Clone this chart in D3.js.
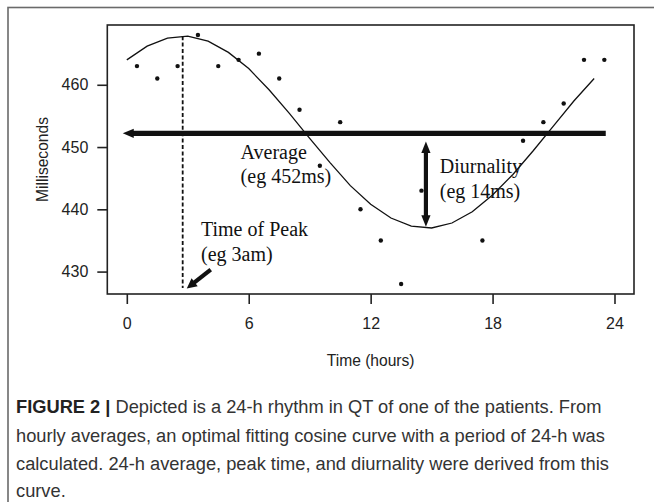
<!DOCTYPE html>
<html><head><meta charset="utf-8">
<script src="https://cdn.jsdelivr.net/npm/d3@7"></script>
<style>body{margin:0;background:#fff}svg{display:block}</style>
</head><body>
<script>
// ---- data ----
const pointHours = [0.5,1.5,2.5,3.5,4.5,5.5,6.5,7.5,8.5,9.5,10.5,11.5,12.5,13.5,14.5,17.5,19.5,20.5,21.5,22.5,23.5];
const pointQT    = [463,461,463,468,463,464,465,461,456,447,454,440,435,428,443,435,451,454,457,464,464];
const curveHours = [0,1,2,3,4,5,6,7,8,9,10,11,12,13,14,15,16,17,18,19,20,21,22,23];
const curveQT    = [464.0,466.2,467.5,467.8,467.0,465.2,462.6,459.2,455.4,451.4,447.5,443.8,440.8,438.6,437.3,437.0,437.8,439.6,442.3,445.6,449.4,453.4,457.4,461.0];
const xTicks = [0,6,12,18,24];
const yTicks = [430,440,450,460];
const xTitle = "Time (hours)";
const yTitle = "Milliseconds";
const averageQT = 452.2;
const averageSpan = [23.57, -0.2];      // hours: flat end, arrow tip
const peakHour = 2.75;
const peakSpan = [467.8, 427.36];        // dashed line top / bottom (ms)
const peakArrow = [[4.13, 430.3], [2.95, 427.3]]; // tail, tip
const diurnalHour = 14.72;
const diurnalSpan = [437.2, 450.9];
const labelTexts = [["Average", "(eg 452ms)"], ["Time of Peak", "(eg 3am)"], ["Diurnality", "(eg 14ms)"]];
const labelAnchors = [[5.6, 448.1], [3.65, 435.7], [15.4, 445.8]]; // hour, ms of first baseline
const captionBold = "FIGURE 2 |";
const captionLines = [
  " Depicted is a 24-h rhythm in QT of one of the patients. From",
  "hourly averages, an optimal fitting cosine curve with a period of 24-h was",
  "calculated. 24-h average, peak time, and diurnality were derived from this",
  "curve."
];

// ---- drawing ----
const W = 654, H = 502;
const svg = d3.select("body").append("svg").attr("width", W).attr("height", H);
svg.append("rect").attr("width", W).attr("height", H).attr("fill", "#fff");

// outer figure frame
svg.append("rect").attr("x", 8).attr("y", 7.5).attr("width", 900).attr("height", 900)
  .attr("fill", "none").attr("stroke", "#6a6a6a").attr("stroke-width", 1.6);

const plot = {left: 107.3, right: 634, top: 25, bottom: 294};
const x = d3.scaleLinear().domain([-0.96, 24.96]).range([plot.left, plot.right]);
const y = d3.scaleLinear().domain([426.4, 469.6]).range([plot.bottom, plot.top]);

const sans = "'Liberation Sans', Arial, Helvetica, sans-serif";
const serif = "'Liberation Serif', 'Times New Roman', serif";
const ink = "#111";

// axes
const gx = svg.append("g").attr("transform", `translate(0,${plot.bottom})`)
  .call(d3.axisBottom(x).tickValues(xTicks).tickSize(10).tickPadding(13.6).tickFormat(d3.format("d")));
const gy = svg.append("g").attr("transform", `translate(${plot.left},0)`)
  .call(d3.axisLeft(y).tickValues(yTicks).tickSize(10).tickPadding(9).tickFormat(d3.format("d")));
[gx, gy].forEach(g => {
  g.select(".domain").remove();
  g.selectAll(".tick line").attr("stroke", "#222").attr("stroke-width", 1.6);
  g.selectAll(".tick text").attr("fill", "#222").style("font-family", sans).style("font-size", "16px");
});

// frame
svg.append("rect").attr("x", plot.left).attr("y", plot.top)
  .attr("width", plot.right - plot.left).attr("height", plot.bottom - plot.top)
  .attr("fill", "none").attr("stroke", "#222").attr("stroke-width", 1.6);

// axis titles
svg.append("text").attr("x", (plot.left + plot.right) / 2).attr("y", 365.7)
  .attr("text-anchor", "middle").attr("fill", "#222")
  .style("font-family", sans).style("font-size", "15.6px").text(xTitle);
svg.append("text").attr("transform", `translate(47.8,${(plot.top + plot.bottom) / 2}) rotate(-90)`)
  .attr("text-anchor", "middle").attr("fill", "#222")
  .style("font-family", sans).style("font-size", "15.6px").text(yTitle);

// fitted curve
const curvePts = curveHours.map((h, i) => [h, curveQT[i]]);
svg.append("path").datum(curvePts)
  .attr("d", d3.line().x(d => x(d[0])).y(d => y(d[1])))
  .attr("fill", "none").attr("stroke", ink).attr("stroke-width", 1.3);

// data points
svg.append("g").selectAll("circle").data(pointHours.map((h, i) => [h, pointQT[i]]))
  .join("circle").attr("cx", d => x(d[0])).attr("cy", d => y(d[1])).attr("r", 2.2).attr("fill", ink);

// arrow helper
function head(tip, from, len, hw) {
  const dx = tip[0] - from[0], dy = tip[1] - from[1];
  const L = Math.hypot(dx, dy), ux = dx / L, uy = dy / L;
  const bx = tip[0] - ux * len, by = tip[1] - uy * len;
  return `M${tip[0]},${tip[1]}L${bx - uy * hw},${by + ux * hw}L${bx + uy * hw},${by - ux * hw}Z`;
}
function arrow(from, tip, width, len, hw, both) {
  const dx = tip[0] - from[0], dy = tip[1] - from[1];
  const L = Math.hypot(dx, dy), ux = dx / L, uy = dy / L;
  const a = both ? [from[0] + ux * (len - 1), from[1] + uy * (len - 1)] : from;
  const b = [tip[0] - ux * (len - 1), tip[1] - uy * (len - 1)];
  svg.append("line").attr("x1", a[0]).attr("y1", a[1]).attr("x2", b[0]).attr("y2", b[1])
    .attr("stroke", ink).attr("stroke-width", width);
  svg.append("path").attr("d", head(tip, from, len, hw)).attr("fill", ink);
  if (both) svg.append("path").attr("d", head(from, tip, len, hw)).attr("fill", ink);
}

// average arrow
arrow([x(averageSpan[0]), y(averageQT)], [x(averageSpan[1]), y(averageQT)], 5.3, 11, 4.6, false);

// peak dashed line
svg.append("line").attr("x1", x(peakHour)).attr("x2", x(peakHour))
  .attr("y1", y(peakSpan[0])).attr("y2", y(peakSpan[1]))
  .attr("stroke", ink).attr("stroke-width", 1.8).attr("stroke-dasharray", "4,2.4");

// peak arrow
arrow([x(peakArrow[0][0]), y(peakArrow[0][1])], [x(peakArrow[1][0]), y(peakArrow[1][1])], 4.2, 10, 5, false);

// diurnality double arrow
arrow([x(diurnalHour), y(diurnalSpan[0])], [x(diurnalHour), y(diurnalSpan[1])], 4.2, 11.5, 4.6, true);

// annotation labels
labelTexts.forEach((lines, i) => {
  const t = svg.append("text").attr("x", x(labelAnchors[i][0])).attr("y", y(labelAnchors[i][1]))
    .attr("fill", ink).style("font-family", serif).style("font-size", "20px");
  lines.forEach((s, j) => t.append("tspan").attr("x", x(labelAnchors[i][0])).attr("dy", j ? 24.5 : 0).text(s));
});

// caption
const cap = svg.append("g").style("font-family", sans).attr("fill", "#333");
const baselines = [413, 442, 470, 497];
const capTexts = captionLines.map((s, i) => {
  const t = cap.append("text").attr("x", 16).attr("y", baselines[i]).style("font-size", "18px");
  if (i === 0) t.append("tspan").style("font-weight", "bold").attr("fill", "#222").text(captionBold);
  t.append("tspan").text(s);
  return t;
});
// fit caption size to measured line width of the reference (line 1 spans ~586 px)
const w0 = capTexts[0].node().getComputedTextLength();
const fs = 18 * 586 / w0;
capTexts.forEach(t => t.style("font-size", fs + "px"));
</script>
</body></html>
